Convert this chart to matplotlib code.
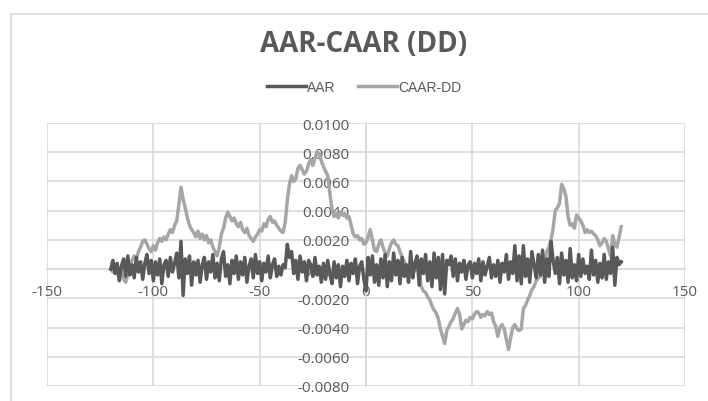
import matplotlib.pyplot as plt
import numpy as np
from matplotlib.patches import Rectangle

# event window days
days = np.arange(-120, 121)

# AAR, in units of 1e-4
aar_e4 = [
    0, 6, -3, 4, -8, 2, 7, -5, 9, -4,
    3, -6, 8, -2, 5, -7, 4, 10, -3, 6,
    -8, 5, -4, 7, -10, 3, 6, -5, 8, -2,
    4, 11, -6, 19, -18, 7, -3, 9, -11, 5,
    -4, 6, -9, 3, 8, -7, 5, -2, 10, -6,
    4, -8, 7, 12, -5, 3, -10, 6, -3, 9,
    -7, 5, -4, 8, -9, 2, 7, -6, 10, -3,
    5, -8, 4, -2, 9, -6, 3, 7, -5, 2,
    -4, 3, 1, 17, 8, 12, -3, 6, -7, 9,
    -2, 5, -8, 6, 3, -5, 8, -4, 2, -9,
    4, -7, 6, -3, -10, 5, -6, 3, -12, 2,
    -5, 6, -8, 4, -3, 7, -10, 2, 5, -7,
    -15, 8, -4, 9, -9, 3, -11, 7, -6, 10,
    -12, 5, -8, 11, -4, 6, -10, 8, -5, 3,
    -9, 12, -6, 4, 9, -11, 7, -3, 10, -8,
    5, -12, 11, -6, 8, -14, 10, -17, 6, 3,
    9, -5, 7, -8, 4, -2, 6, -7, 3, 5,
    -6, 4, -3, 7, -8, 5, -4, 2, 8, -6,
    3, -5, 6, -9, 4, -2, 10, -7, 5, -3,
    16, -8, 9, -10, 16, -5, 7, -9, 12, 3,
    -6, 10, -4, 13, -9, 7, -5, 19, 6, -3,
    8, -10, 11, -4, 6, -9, 14, -6, 3, -8,
    10, -5, 7, -3, 2, -7, 13, -4, 6, -9,
    4, -6, 10, -7, 5, -3, 15, -11, 8, 3,
    5,
]

# CAAR-DD, in units of 1e-4
caar_e4 = [
    0, -2, 1, -3, -5, -2, -7, -9, -4, 2,
    6, 9, 7, 12, 15, 19, 20, 17, 14, 12,
    16, 13, 18, 21, 19, 22, 20, 24, 27, 25,
    30, 33, 44, 56, 48, 42, 35, 30, 27, 25,
    22, 26, 21, 24, 20, 23, 18, 20, 15, 12,
    9, 15, 24, 28, 35, 39, 36, 33, 35, 31,
    29, 32, 27, 25, 28, 23, 21, 19, 22, 24,
    27, 26, 31, 29, 34, 36, 32, 33, 30, 28,
    26, 25, 32, 47, 58, 64, 60, 62, 69, 71,
    68, 65, 67, 72, 75, 71, 76, 80, 79, 74,
    70, 67, 64, 52, 41, 36, 38, 35, 39, 37,
    38, 35, 36, 30, 24, 22, 23, 20, 21, 17,
    18, 22, 27, 20, 13, 12, 17, 20, 15, 11,
    9, 14, 18, 20, 17, 16, 12, 8, 5, 2,
    -1, -5, -3, 0, 2, -3, -12, -15, -16, -19,
    -21, -25, -28, -30, -34, -41, -46, -51, -42, -39,
    -36, -34, -30, -27, -31, -41, -38, -35, -36, -33,
    -34, -31, -29, -30, -33, -31, -32, -29, -31, -30,
    -36, -39, -46, -40, -38, -41, -48, -55, -47, -40,
    -38, -41, -42, -41, -27, -25, -21, -18, -14, -12,
    -8, -6, -5, -1, 6, 12, 15, 20, 28, 40,
    42, 45, 58, 55, 50, 36, 30, 31, 28, 37,
    35, 33, 30, 25, 27, 25, 26, 24, 23, 20,
    16, 18, 21, 19, 14, 9, 23, 17, 15, 22,
    29,
]

aar = np.array(aar_e4) * 1e-4
caar = np.array(caar_e4) * 1e-4

xticks = [-150, -100, -50, 0, 50, 100, 150]
yticks = np.arange(-0.008, 0.0101, 0.002)

txt = '#595959'
grid = '#d9d9d9'

fig = plt.figure(figsize=(7.08, 4.02), dpi=100)
fig.patches.append(Rectangle((11 / 708, -0.1), 1.2, 1.1 - 15 / 402,
                             transform=fig.transFigure, fill=False,
                             edgecolor=grid, lw=1.2))

ax = fig.add_axes([47 / 708, 1 - 387 / 402, 638 / 708, 263 / 402])

ax.plot(days, aar, color='#595959', lw=2.5, label='AAR', zorder=4)
ax.plot(days, caar, color='#a6a6a6', lw=2.5, label='CAAR-DD', zorder=3)

ax.set_xlim(-150, 150)
ax.set_ylim(-0.008, 0.010)
ax.set_xticks(xticks)
ax.set_xticklabels([str(v) for v in xticks])
ax.set_yticks(yticks)
ax.set_yticklabels(['%.4f' % v if abs(v) > 1e-9 else '0.0000' for v in yticks])

ax.grid(True, color=grid, lw=1.2, zorder=0)
ax.set_axisbelow(True)

for s in ['top', 'right']:
    ax.spines[s].set_visible(False)
ax.spines['left'].set_position(('data', 0))
ax.spines['bottom'].set_position(('data', 0))
ax.spines['left'].set_color(grid)
ax.spines['bottom'].set_color(grid)
ax.spines['left'].set_linewidth(1.2)
ax.spines['bottom'].set_linewidth(1.2)
ax.tick_params(length=0, colors=txt, labelsize=11)
for lab in ax.get_xticklabels() + ax.get_yticklabels():
    lab.set_family(['Open Sans', 'DejaVu Sans'])
ax.tick_params(axis='x', pad=11)
ax.tick_params(axis='y', pad=12)

fig.text(364 / 708, 1 - 45 / 402, 'AAR-CAAR (DD)', ha='center', va='center',
         fontsize=20, fontweight='bold', color=txt,
         family=['Open Sans', 'DejaVu Sans'])

fig.legend(loc='center', bbox_to_anchor=(364 / 708, 1 - 88 / 402), ncol=2,
           frameon=False, handlelength=2.8, handletextpad=0.1,
           columnspacing=1.6,
           prop={'family': ['Liberation Sans Narrow', 'Liberation Sans'],
                 'size': 10},
           labelcolor=txt)

plt.savefig('out.png', dpi=100)
